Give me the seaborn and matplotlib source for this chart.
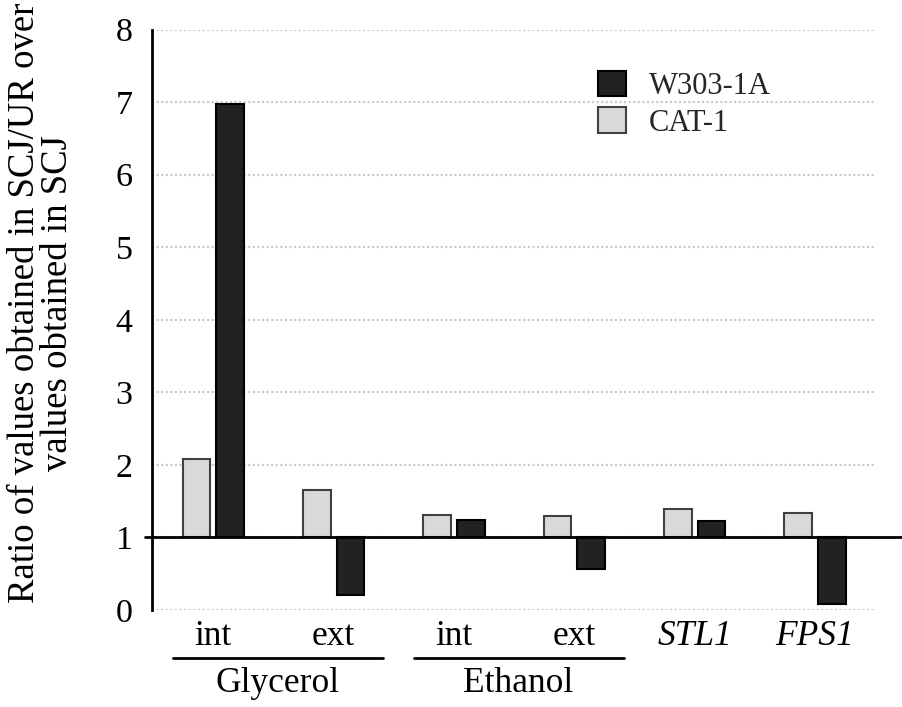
import numpy as np
import pandas as pd
import matplotlib
matplotlib.use("Agg")
import matplotlib.pyplot as plt
import matplotlib.transforms as mtransforms
from matplotlib.patches import Patch
from matplotlib.lines import Line2D
import seaborn as sns

# ---- data ----
categories = ["Glycerol int", "Glycerol ext", "Ethanol int", "Ethanol ext", "STL1", "FPS1"]
tick_labels = ["int", "ext", "int", "ext", "STL1", "FPS1"]
italic_ticks = [False, False, False, False, True, True]
groups = ["Glycerol", "Ethanol"]
group_members = [(0, 1), (2, 3)]
series = ["CAT-1", "W303-1A"]
legend_order = ["W303-1A", "CAT-1"]
cat1_values = [2.08, 1.65, 1.31, 1.29, 1.39, 1.33]
w303_values = [6.98, 0.21, 1.24, 0.57, 1.22, 0.08]
baseline = 1.0
yticks = [0, 1, 2, 3, 4, 5, 6, 7, 8]
ylabel = "Ratio of values obtained in SCJ/UR over\nvalues obtained in SCJ"

df = pd.DataFrame({
    "category": categories * 2,
    "strain": [series[0]] * len(categories) + [series[1]] * len(categories),
    "ratio": cat1_values + w303_values,
})
df["height"] = df["ratio"] - baseline

sns.set_theme(style="white")
plt.rcParams["font.family"] = ["Liberation Serif", "DejaVu Serif"]

W, H = 902, 707
fig = plt.figure(figsize=(W / 100, H / 100), dpi=100)
ax_l, ax_r, ax_t, ax_b = 152, 875, 29.5, 610
ax = fig.add_axes([ax_l / W, 1 - ax_b / H, (ax_r - ax_l) / W, (ax_b - ax_t) / H])

fills = {"CAT-1": "#d9d9d9", "W303-1A": "#222222"}
edges = {"CAT-1": "#404040", "W303-1A": "#000000"}

sns.barplot(data=df, x="category", y="height", hue="strain", order=categories,
            hue_order=series, palette=fills, width=0.56, gap=0.18,
            bottom=baseline, errorbar=None, saturation=1, legend=False,
            linewidth=1.5, ax=ax, zorder=2)
for cont, s in zip(ax.containers, series):
    for p in cont:
        p.set_edgecolor(edges[s])
        p.set_linewidth(1.5)

ax.set_ylim(0, 8)
ax.set_xlim(-0.51, 5.5)
ax.set_yticks(yticks)
ax.set_yticklabels([str(t) for t in yticks])
ax.set_xticks(range(len(categories)))
ax.set_xticklabels(tick_labels)
for lab, it in zip(ax.get_xticklabels(), italic_ticks):
    if it:
        lab.set_fontstyle("italic")
ax.tick_params(axis="y", length=0, pad=14, labelsize=24.5, labelcolor="black")
ax.tick_params(axis="x", length=0, pad=7, labelsize=25.5, labelcolor="black")
ax.set_xlabel("")
ax.set_ylabel("")

ax.yaxis.grid(True, linestyle=(0, (1, 1.2)), color="#c8c8c8", linewidth=1.5)
ax.xaxis.grid(False)
ax.set_axisbelow(True)
for side in ["top", "right", "bottom"]:
    ax.spines[side].set_visible(False)
ax.spines["left"].set_color("black")
ax.spines["left"].set_linewidth(2)

# baseline at 1, slightly left of the spine to the right edge of the figure
ax_w = ax_r - ax_l
ax.axhline(baseline, xmin=(145 - ax_l) / ax_w, xmax=(W - ax_l) / ax_w, color="black",
           linewidth=2, clip_on=False, zorder=3)

# group labels with underlines
trans = mtransforms.blended_transform_factory(ax.transData, ax.transAxes)
ax_h = ax_b - ax_t
for g, (a, b) in zip(groups, group_members):
    line = Line2D([a - 0.335, b + 0.41], [-(658 - ax_b) / ax_h] * 2, transform=trans,
                  color="black", linewidth=2, clip_on=False)
    ax.add_line(line)
    ax.text((a + b) / 2 + 0.03, -(683 - ax_b) / ax_h, g, transform=trans,
            ha="center", va="center", fontsize=25.5, color="black", clip_on=False)

# y label
fig.text(41 / W, 1 - 303 / H, ylabel, rotation=90, ha="center", va="center",
         multialignment="center", fontsize=26.5, color="black", linespacing=0.95)

# legend
handles = [Patch(facecolor=fills[s], edgecolor=edges[s], linewidth=1.5) for s in legend_order]
ax.legend(handles, legend_order, loc="upper left",
          bbox_to_anchor=(598 / W, 1 - 71 / H), bbox_transform=fig.transFigure,
          frameon=False, fontsize=22, handlelength=0.92, handleheight=0.9,
          handletextpad=0.75, labelspacing=0.2, borderpad=0, borderaxespad=0)

fig.savefig("out.png", dpi=100)
